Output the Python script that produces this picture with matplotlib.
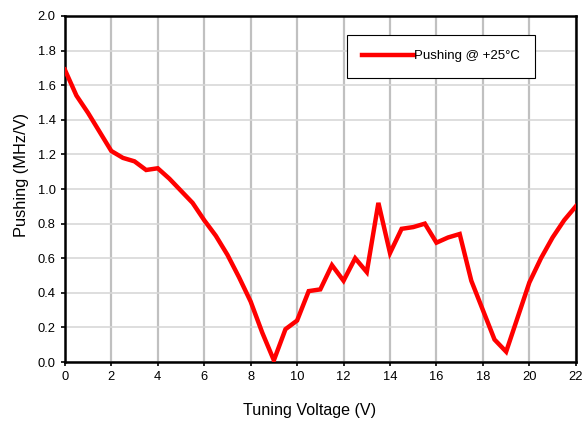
import matplotlib
matplotlib.use("Agg")
import matplotlib.pyplot as plt

plt.rcParams['font.family'] = ['Liberation Sans', 'DejaVu Sans']

# tuning voltage (V) and pushing (MHz/V)
volts = [0, 0.5, 1, 1.5, 2, 2.5, 3, 3.5, 4, 4.5, 5, 5.5, 6, 6.5, 7, 7.5,
         8, 8.5, 9, 9.5, 10, 10.5, 11, 11.5, 12, 12.5, 13, 13.5, 14, 14.5,
         15, 15.5, 16, 16.5, 17, 17.5, 18, 18.5, 19, 19.5, 20, 20.5, 21,
         21.5, 22]
pushing = [1.69, 1.54, 1.44, 1.33, 1.22, 1.18, 1.16, 1.11, 1.12, 1.06,
           0.99, 0.92, 0.82, 0.73, 0.62, 0.49, 0.35, 0.17, 0.01, 0.19,
           0.24, 0.41, 0.42, 0.56, 0.47, 0.60, 0.52, 0.92, 0.63, 0.77,
           0.78, 0.80, 0.69, 0.72, 0.74, 0.47, 0.30, 0.13, 0.06, 0.26,
           0.46, 0.60, 0.72, 0.82, 0.90]

fig = plt.figure(figsize=(5.84, 4.21), dpi=100)
ax = fig.add_axes([0.111, 0.140, 0.875, 0.822])

ax.plot(volts, pushing, color='#ff0000', lw=3.2, label='Pushing @ +25°C',
        solid_joinstyle='miter', zorder=3)

ax.set_xlim(0, 22)
ax.set_ylim(0, 2.0)
ax.set_xticks(range(0, 23, 2))
ax.set_yticks([i / 10 for i in range(0, 21, 2)])
ax.set_yticklabels([f'{i / 10:.1f}' for i in range(0, 21, 2)])

ax.xaxis.grid(True, color='#c0c0c0', lw=1.6)
ax.yaxis.grid(True, color='#d8d8d8', lw=1.2)
ax.set_axisbelow(True)

for s in ax.spines.values():
    s.set_linewidth(1.8)
    s.set_color('black')

ax.tick_params(axis='both', labelsize=9.3, length=3, width=1.2, direction='out')
ax.set_xlabel('Tuning Voltage (V)', fontsize=11.6)
ax.set_ylabel('Pushing (MHz/V)', fontsize=11.8)
ax.xaxis.set_label_coords(0.479, -0.118)
ax.yaxis.set_label_coords(-0.070, 0.54)

leg = ax.legend(loc='upper left', bbox_to_anchor=(0.552, 0.945), fontsize=9.5,
                fancybox=False, framealpha=1, edgecolor='black',
                handlelength=3.9, handletextpad=0.0, borderpad=1.15,
                borderaxespad=0)
leg.get_frame().set_linewidth(0.8)

fig.savefig('out.png', dpi=100)
